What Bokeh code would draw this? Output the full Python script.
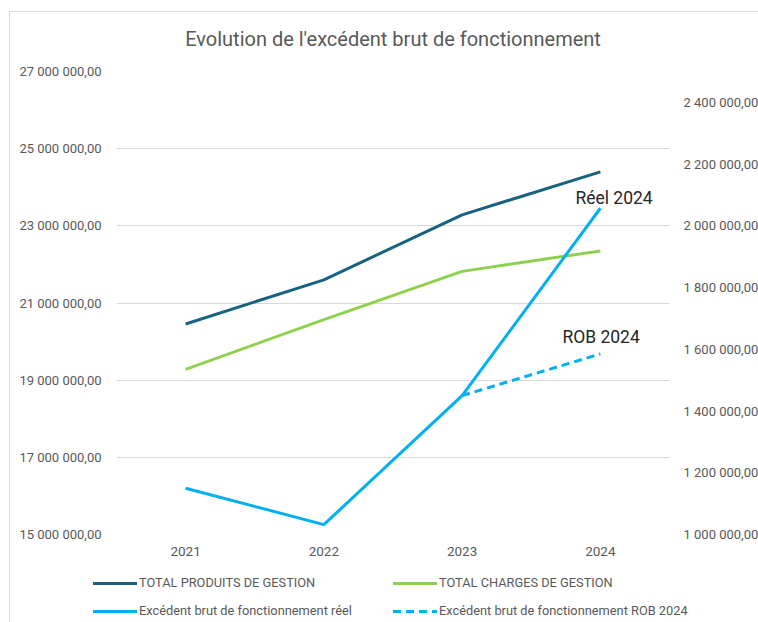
from bokeh.plotting import figure
from bokeh.layouts import column
from bokeh.models import FactorRange, Range1d, LinearAxis, FixedTicker, Div
from bokeh.core.properties import value
from bokeh.embed import file_html
from bokeh.resources import INLINE

# ---------------- data ----------------
years = ["2021", "2022", "2023", "2024"]
produits = [20_456_000, 21_600_000, 23_285_000, 24_400_000]
charges = [19_280_000, 20_570_000, 21_820_000, 22_350_000]
ebf_reel = [1_150_000, 1_032_000, 1_450_000, 2_057_000]
rob_years = ["2023", "2024"]
ebf_rob = [1_450_000, 1_585_000]

left_ticks = [15_000_000, 17_000_000, 19_000_000, 21_000_000, 23_000_000, 25_000_000, 27_000_000]
left_labels = ["15 000 000,00", "17 000 000,00", "19 000 000,00", "21 000 000,00",
               "23 000 000,00", "25 000 000,00", "27 000 000,00"]
right_ticks = [1_000_000, 1_200_000, 1_400_000, 1_600_000, 1_800_000, 2_000_000, 2_200_000, 2_400_000]
right_labels = ["1 000 000,00", "1 200 000,00", "1 400 000,00", "1 600 000,00",
                "1 800 000,00", "2 000 000,00", "2 200 000,00", "2 400 000,00"]

note_texts = ["Réel 2024", "ROB 2024"]
note_years = ["2024", "2024"]
note_values = [ebf_reel[3], ebf_rob[1]]

title_text = "Evolution de l'excédent brut de fonctionnement"
series_names = ["TOTAL PRODUITS DE GESTION", "TOTAL CHARGES DE GESTION",
                "Excédent brut de fonctionnement réel", "Excédent brut de fonctionnement ROB 2024"]

# ---------------- styles ----------------
FONT = "Roboto"
GRAY = "#595959"
C_PROD = "#19627f"
C_CHARGES = "#8fd14f"
C_EBF = "#00b0f0"
series_styles = [dict(line_color=C_PROD, line_width=3),
                 dict(line_color=C_CHARGES, line_width=3),
                 dict(line_color=C_EBF, line_width=3),
                 dict(line_color=C_EBF, line_width=3, line_dash="8 5")]

# ---------------- main chart ----------------
p = figure(x_range=FactorRange(*years), y_range=Range1d(15_000_000, 27_000_000),
           frame_width=553, frame_height=463, output_backend="svg", toolbar_location=None,
           min_border_left=116, min_border_right=89, min_border_top=71, min_border_bottom=39)
p.extra_y_ranges = {"right": Range1d(1_000_000, 2_500_000)}
p.x_range.range_padding = 0
p.border_fill_alpha = 0
p.styles = {"box-shadow": "inset 9px 11px 0 0 #ffffff, inset 10px 12px 0 0 #d9d9d9"}

right_axis = LinearAxis(y_range_name="right")
p.add_layout(right_axis, "right")

p.yaxis[0].ticker = FixedTicker(ticks=left_ticks)
p.yaxis[0].major_label_overrides = dict(zip(left_ticks, left_labels))
right_axis.ticker = FixedTicker(ticks=right_ticks)
right_axis.major_label_overrides = dict(zip(right_ticks, right_labels))

for ax in p.axis:
    ax.axis_line_color = None
    ax.major_tick_line_color = None
    ax.minor_tick_line_color = None
    ax.major_tick_out = 0
    ax.major_tick_in = 0
    ax.major_label_text_color = GRAY
    ax.major_label_text_font = FONT
    ax.major_label_text_font_size = "13px"
p.xaxis.major_label_standoff = 12
p.xaxis.major_label_text_font_size = "13.5px"
p.yaxis[0].major_label_standoff = 15
right_axis.major_label_standoff = 14

p.xgrid.grid_line_color = None
p.ygrid.grid_line_color = "#d9d9d9"
p.ygrid.grid_line_width = 1
p.outline_line_color = None

p.title.text = title_text
p.title.align = "center"
p.title.text_font = FONT
p.title.text_font_style = "normal"
p.title.text_font_size = "20px"
p.title.text_color = GRAY
p.title.standoff = 42

p.line(years, produits, **series_styles[0])
p.line(years, charges, **series_styles[1])
p.line(years, ebf_reel, y_range_name="right", **series_styles[2])
p.line(rob_years, ebf_rob, y_range_name="right", **series_styles[3])

note_offsets = [(-25, -10), (-38, -17)]
for t, yr, v, (dx, dy) in zip(note_texts, note_years, note_values, note_offsets):
    p.text(x=[yr], y=[v], text=[t], y_range_name="right", x_offset=dx, y_offset=dy,
           text_align="left", text_baseline="middle", text_font=value(FONT),
           text_font_size="17.5px", text_color="#262626")

# ---------------- legend strip (HTML) ----------------
def swatch(style):
    color = style["line_color"]
    if "line_dash" in style:
        on, off = style["line_dash"].split()
        return ("background-image:repeating-linear-gradient(90deg,%s 0px,%s %spx,"
                "transparent %spx,transparent %dpx);" % (color, color, on, on, int(on) + int(off)))
    return "background:%s;" % color

legend_cells = [(93, 0), (393, 0), (93, 28), (393, 28)]   # glyph left, row top (px)
parts = ['<div style="position:relative;width:758px;height:49px;font-family:Roboto;'
         'font-size:12.8px;color:%s;">' % GRAY,
         '<span style="position:absolute;left:9px;top:0;width:1px;height:49px;'
         'background:#d9d9d9;"></span>']
for name, style, (gx, gy) in zip(series_names, series_styles, legend_cells):
    parts.append('<span style="position:absolute;left:%dpx;top:%.1fpx;width:44px;height:3px;%s">'
                 '</span>' % (gx, gy + 8.5, swatch(style)))
    parts.append('<span style="position:absolute;left:%dpx;top:%dpx;line-height:20px;'
                 'white-space:nowrap;">%s</span>' % (gx + 46, gy, name))
parts.append('</div>')
legend_div = Div(text="".join(parts), width=758, height=49, margin=0)

layout = column(p, legend_div, spacing=0)
open("out.html", "w").write(file_html(layout, INLINE))
